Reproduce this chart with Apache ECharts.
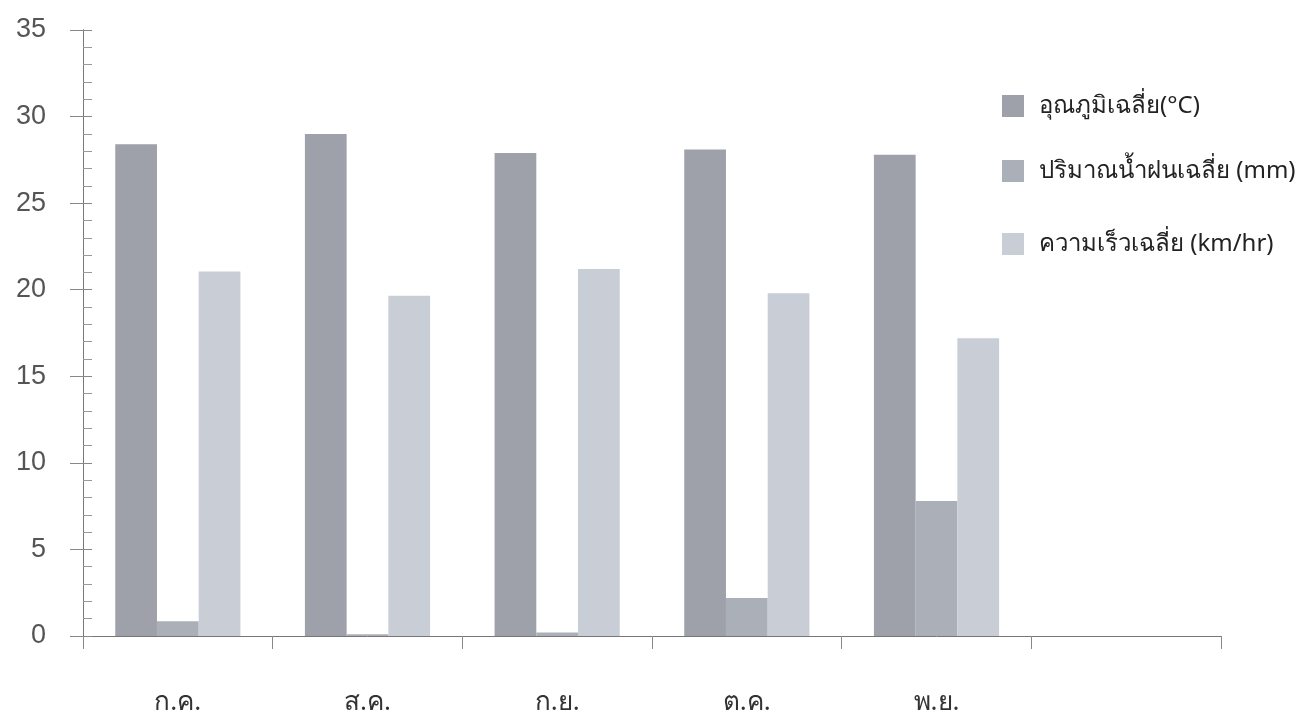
<!DOCTYPE html>
<html>
<head>
<meta charset="utf-8">
<script src="https://cdn.jsdelivr.net/npm/echarts@6/dist/echarts.min.js"></script>
<style>
  html, body { margin: 0; padding: 0; background: #fff; }
  #chart { width: 1315px; height: 716px; }
</style>
</head>
<body>
<div id="chart"></div>
<script>
// Monthly averages: temperature, rainfall, wind speed
const months = ['ก.ค.', 'ส.ค.', 'ก.ย.', 'ต.ค.', 'พ.ย.', ''];
const tempAvg = [28.4, 29.0, 27.9, 28.1, 27.8, null];
const rainAvg = [0.85, 0.1, 0.2, 2.2, 7.8, null];
const windAvg = [21.05, 19.65, 21.2, 19.8, 17.2, null];
const seriesNames = ['อุณภูมิเฉลี่ย(°C)', 'ปริมาณน้ำฝนเฉลี่ย (mm)', 'ความเร็วเฉลี่ย (km/hr)'];

const colors = ['#9ea1a9', '#abafb8', '#c8cdd6'];
const thaiFont = '"Noto Sans", "DejaVu Sans", sans-serif';

const chart = echarts.init(document.getElementById('chart'));

function legendAt(name, top) {
  return {
    data: [name],
    left: 997,
    top: top,
    itemWidth: 22,
    itemHeight: 22,
    itemGap: 20,
    icon: 'rect',
    selectedMode: false,
    textStyle: { fontFamily: thaiFont, fontSize: 24, color: '#222', padding: [0, 0, 0, 10] }
  };
}

const yCommon = {
  type: 'value',
  min: 0,
  max: 35,
  interval: 5,
  splitLine: { show: false },
  axisLine: { show: true, lineStyle: { color: '#777', width: 1 } }
};

chart.setOption({
  backgroundColor: '#fff',
  animation: false,
  color: colors,
  grid: { left: 83, right: 94, top: 30, bottom: 77, containLabel: false },
  legend: [
    legendAt(seriesNames[0], 89),
    legendAt(seriesNames[1], 154),
    legendAt(seriesNames[2], 227)
  ],
  xAxis: {
    type: 'category',
    data: months,
    boundaryGap: true,
    axisLine: { lineStyle: { color: '#777', width: 1 } },
    axisTick: { show: true, length: 13, lineStyle: { color: '#888' } },
    axisLabel: { margin: 54, fontFamily: thaiFont, fontSize: 26, color: '#333' }
  },
  yAxis: [
    Object.assign({}, yCommon, {
      axisTick: { show: true, inside: true, length: 9, lineStyle: { color: '#888' } },
      minorTick: { show: true, splitNumber: 5, length: 9, lineStyle: { color: '#999' } },
      axisLabel: { margin: 37, fontFamily: '"Liberation Sans", Arial, sans-serif', fontSize: 27, color: '#555' }
    }),
    Object.assign({}, yCommon, {
      position: 'left',
      axisTick: { show: true, inside: false, length: 13, lineStyle: { color: '#888' } },
      axisLabel: { show: false }
    })
  ],
  series: [
    { name: seriesNames[0], type: 'bar', data: tempAvg, barGap: '0%', barCategoryGap: '34%' },
    { name: seriesNames[1], type: 'bar', data: rainAvg, barGap: '0%', barCategoryGap: '34%' },
    { name: seriesNames[2], type: 'bar', data: windAvg, barGap: '0%', barCategoryGap: '34%' }
  ]
});
</script>
</body>
</html>
